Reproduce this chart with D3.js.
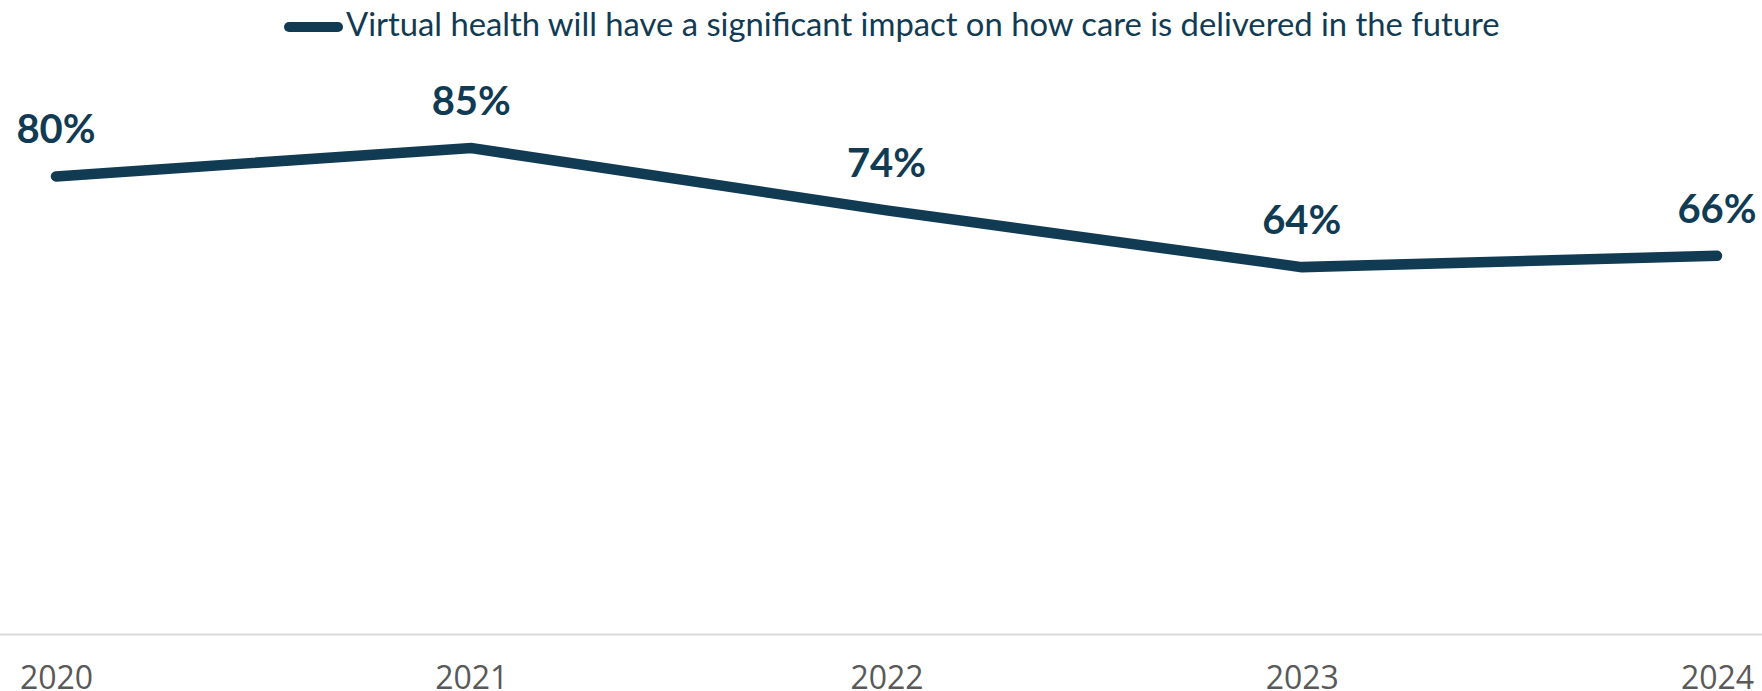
<!DOCTYPE html>
<html>
<head>
<meta charset="utf-8">
<script src="https://cdn.jsdelivr.net/npm/d3@7"></script>
<style>
  html, body { margin: 0; padding: 0; background: #ffffff; overflow: hidden; }
</style>
</head>
<body>
<div id="my_chart"></div>
<script>
// data
const years = ["2020", "2021", "2022", "2023", "2024"];
const impactValues = [80, 85, 74, 64, 66];
const seriesName = "Virtual health will have a significant impact on how care is delivered in the future";

const W = 1762, H = 691;
const lineColor = "#113b53";

const svg = d3.select("#my_chart")
  .append("svg")
    .attr("width", W)
    .attr("height", H);

const data = years.map((yr, i) => ({year: yr, value: impactValues[i]}));

// scales
const x = d3.scalePoint()
  .domain(years)
  .range([56, 1717]);

const y = d3.scaleLinear()
  .domain([0, 100])
  .range([630, 63]);

// x axis: light baseline across the full width, gray year labels
svg.append("line")
  .attr("x1", 0)
  .attr("x2", W)
  .attr("y1", 634.5)
  .attr("y2", 634.5)
  .attr("stroke", "#d9d9d9")
  .attr("stroke-width", 2);

const xAxis = svg.append("g")
  .attr("transform", "translate(0, 634)")
  .call(d3.axisBottom(x).tickSize(0).tickPadding(0));
xAxis.select(".domain").remove();
xAxis.selectAll("text")
  .attr("y", 0)
  .attr("dy", 0)
  .attr("transform", "translate(0, 55)")
  .style("font-family", "'Open Sans', sans-serif")
  .style("font-size", "32px")
  .style("fill", "#595959");

// the line
const line = d3.line()
  .x(d => x(d.year))
  .y(d => y(d.value));

svg.append("path")
  .datum(data)
  .attr("d", line)
  .attr("fill", "none")
  .attr("stroke", lineColor)
  .attr("stroke-width", 10.5)
  .attr("stroke-linecap", "round")
  .attr("stroke-linejoin", "miter");

// data labels
svg.selectAll(".lbl")
  .data(data)
  .join("text")
    .attr("class", "lbl")
    .attr("x", d => x(d.year))
    .attr("y", d => y(d.value) - 33)
    .attr("text-anchor", "middle")
    .style("font-family", "Lato, sans-serif")
    .style("font-weight", "bold")
    .style("font-size", "40px")
    .style("fill", lineColor)
    .text(d => d.value + "%");

// legend
svg.append("line")
  .attr("x1", 289)
  .attr("x2", 338)
  .attr("y1", 27)
  .attr("y2", 27)
  .attr("stroke", lineColor)
  .attr("stroke-width", 10)
  .attr("stroke-linecap", "round");

const legendText = svg.append("text")
  .attr("x", 346)
  .attr("y", 36)
  .style("font-family", "Lato, sans-serif")
  .style("font-size", "29px")
  .style("fill", lineColor)
  .text(seriesName);

// fit the legend label to the reference width
const targetW = 1154;
const curW = legendText.node().getComputedTextLength();
legendText.style("font-size", (29 * targetW / curW).toFixed(2) + "px");
</script>
</body>
</html>
